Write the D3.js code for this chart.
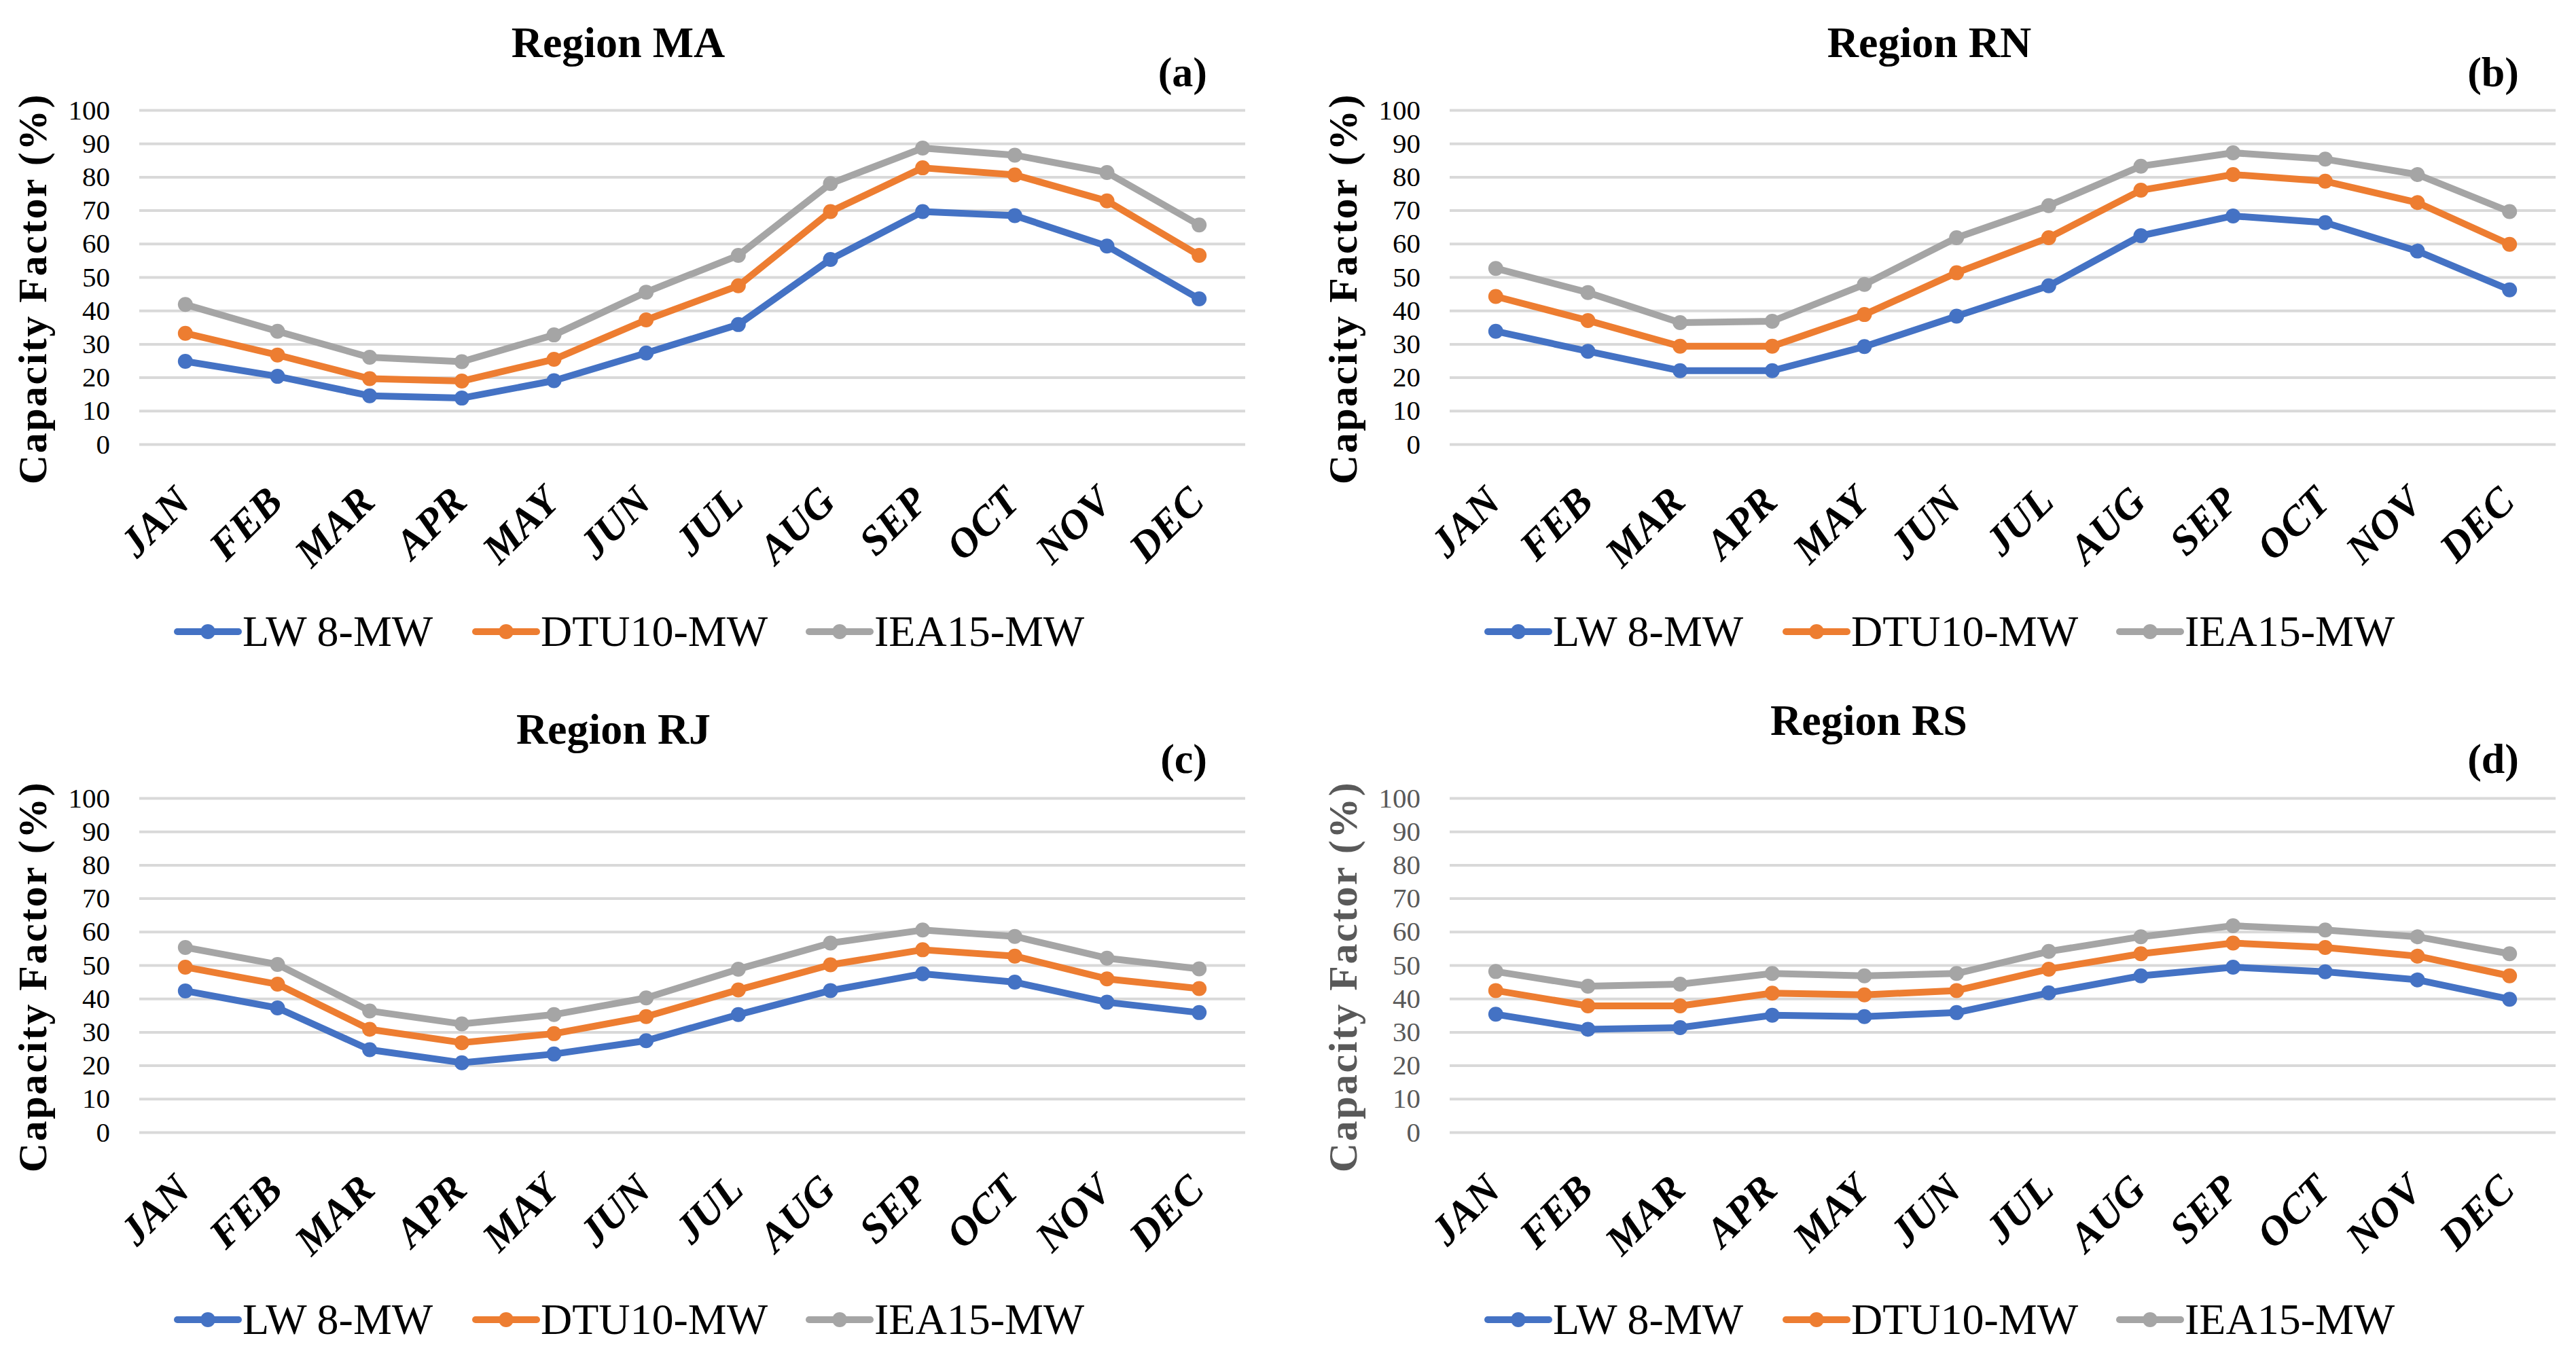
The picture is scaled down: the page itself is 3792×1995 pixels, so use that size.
<!DOCTYPE html>
<html>
<head>
<meta charset="utf-8">
<script src="https://cdn.jsdelivr.net/npm/d3@7"></script>
<style>
  html, body { margin: 0; padding: 0; background: #fff; }
  svg { display: block; }
</style>
</head>
<body>
<svg id="chart" width="3792" height="1995"></svg>
<script>
// ---------- data ----------
const months = ["JAN","FEB","MAR","APR","MAY","JUN","JUL","AUG","SEP","OCT","NOV","DEC"];
const seriesNames = ["LW 8-MW", "DTU10-MW", "IEA15-MW"];
const seriesColors = ["#4472C4", "#ED7D31", "#A5A5A5"];
const yTicks = [0, 10, 20, 30, 40, 50, 60, 70, 80, 90, 100];

const maLW  = [24.8, 20.3, 14.5, 13.8, 19.0, 27.3, 35.8, 55.3, 69.6, 68.4, 59.3, 43.5];
const maDTU = [33.2, 26.7, 19.6, 18.9, 25.4, 37.2, 47.4, 69.6, 82.7, 80.6, 72.8, 56.5];
const maIEA = [41.8, 33.8, 26.0, 24.7, 32.7, 45.5, 56.5, 78.0, 88.6, 86.5, 81.3, 65.6];

const rnLW  = [33.8, 27.8, 22.0, 22.0, 29.2, 38.3, 47.4, 62.4, 68.3, 66.3, 57.8, 46.2];
const rnDTU = [44.2, 37.0, 29.3, 29.3, 38.8, 51.3, 61.8, 76.0, 80.7, 78.7, 72.3, 59.8];
const rnIEA = [52.6, 45.4, 36.4, 36.8, 47.8, 61.8, 71.4, 83.2, 87.2, 85.3, 80.7, 69.6];

const rjLW  = [42.3, 37.2, 24.7, 20.8, 23.4, 27.4, 35.2, 42.4, 47.4, 44.9, 38.9, 35.8];
const rjDTU = [49.4, 44.3, 30.8, 26.8, 29.5, 34.6, 42.6, 50.1, 54.6, 52.7, 45.9, 43.0];
const rjIEA = [55.3, 50.2, 36.3, 32.4, 35.2, 40.2, 48.8, 56.6, 60.5, 58.6, 52.1, 48.9];

const rsLW  = [35.3, 30.8, 31.3, 35.0, 34.6, 35.8, 41.7, 46.8, 49.4, 48.0, 45.6, 39.8];
const rsDTU = [42.4, 37.8, 37.8, 41.6, 41.1, 42.4, 48.8, 53.4, 56.6, 55.3, 52.7, 46.8];
const rsIEA = [48.1, 43.7, 44.3, 47.5, 46.8, 47.5, 54.1, 58.5, 61.8, 60.5, 58.5, 53.4];

const titles = ["Region MA", "Region RN", "Region RJ", "Region RS"];
const tags = ["(a)", "(b)", "(c)", "(d)"];
const yAxisTitle = "Capacity Factor (%)";

// ---------- layout ----------
const FONT = "'Liberation Serif', 'Times New Roman', serif";
const panels = [
  { title: titles[0], tag: tags[0], data: [maLW, maDTU, maIEA], x0: 205,  x1: 1833, yTop: 162,  yBot: 654,  titleX: 910,  titleY: 84,   tagX: 1777, tagY: 127,  axisColor: "#000" },
  { title: titles[1], tag: tags[1], data: [rnLW, rnDTU, rnIEA], x0: 2134, x1: 3762, yTop: 162,  yBot: 654,  titleX: 2840, titleY: 84,   tagX: 3708, tagY: 127,  axisColor: "#000" },
  { title: titles[2], tag: tags[2], data: [rjLW, rjDTU, rjIEA], x0: 205,  x1: 1833, yTop: 1175, yBot: 1667, titleX: 903,  titleY: 1095, tagX: 1777, tagY: 1138, axisColor: "#000" },
  { title: titles[3], tag: tags[3], data: [rsLW, rsDTU, rsIEA], x0: 2134, x1: 3762, yTop: 1175, yBot: 1667, titleX: 2751, titleY: 1082, tagX: 3708, tagY: 1138, axisColor: "#595959" }
];
const legendOffsets = [56, 495, 986];

const svg = d3.select("#chart");

panels.forEach(p => {
  const g = svg.append("g");
  const x = d3.scalePoint().domain(months).range([p.x0, p.x1]).padding(0.5);
  const y = d3.scaleLinear().domain([0, 100]).range([p.yBot, p.yTop]);

  // gridlines + y labels
  const yAxis = g.append("g")
    .attr("transform", `translate(${p.x0},0)`)
    .call(d3.axisLeft(y).tickValues(yTicks).tickSize(-(p.x1 - p.x0)).tickPadding(43).tickFormat(d3.format("d")));
  yAxis.select(".domain").remove();
  yAxis.selectAll(".tick line").attr("stroke", "#D9D9D9").attr("stroke-width", 4);
  yAxis.selectAll(".tick text")
    .attr("fill", p.axisColor)
    .style("font-family", FONT)
    .style("font-size", "41px");

  // x labels
  const xAxis = g.append("g")
    .attr("transform", `translate(0,${p.yBot})`)
    .call(d3.axisBottom(x).tickSize(0));
  xAxis.select(".domain").remove();
  xAxis.selectAll(".tick text")
    .attr("x", 0).attr("y", 0).attr("dy", null)
    .attr("text-anchor", "end")
    .attr("transform", "translate(10,88) rotate(-45)")
    .attr("fill", "#000")
    .style("font-family", FONT)
    .style("font-size", "61px")
    .style("font-weight", "bold")
    .style("font-style", "italic");

  // series
  p.data.forEach((vals, i) => {
    const line = d3.line().x((d, j) => x(months[j])).y(d => y(d));
    g.append("path")
      .datum(vals)
      .attr("d", line)
      .attr("fill", "none")
      .attr("stroke", seriesColors[i])
      .attr("stroke-width", 10)
      .attr("stroke-linejoin", "round");
    g.selectAll(null)
      .data(vals)
      .enter().append("circle")
      .attr("cx", (d, j) => x(months[j]))
      .attr("cy", d => y(d))
      .attr("r", 11)
      .attr("fill", seriesColors[i]);
  });

  // title
  g.append("text")
    .attr("x", p.titleX).attr("y", p.titleY)
    .attr("text-anchor", "middle")
    .style("font-family", FONT).style("font-size", "64px").style("font-weight", "bold")
    .text(p.title);

  // tag
  g.append("text")
    .attr("x", p.tagX).attr("y", p.tagY)
    .attr("text-anchor", "end")
    .style("font-family", FONT).style("font-size", "62px").style("font-weight", "bold")
    .text(p.tag);

  // y axis title
  const cy = (p.yTop + p.yBot) / 2 + 17;
  g.append("text")
    .attr("transform", `translate(${p.x0 - 137},${cy}) rotate(-90)`)
    .attr("text-anchor", "middle")
    .attr("fill", p.axisColor)
    .style("font-family", FONT).style("font-size", "60px").style("font-weight", "bold")
    .style("letter-spacing", "2.5px")
    .text(yAxisTitle);

  // legend
  const ly = p.yBot + 276;
  seriesNames.forEach((name, i) => {
    const lx = p.x0 + legendOffsets[i];
    g.append("line")
      .attr("x1", lx).attr("x2", lx + 90)
      .attr("y1", ly).attr("y2", ly)
      .attr("stroke", seriesColors[i]).attr("stroke-width", 10).attr("stroke-linecap", "round");
    g.append("circle")
      .attr("cx", lx + 45).attr("cy", ly).attr("r", 11).attr("fill", seriesColors[i]);
    g.append("text")
      .attr("x", lx + 96).attr("y", ly + 21)
      .style("font-family", FONT).style("font-size", "64px")
      .attr("fill", "#000")
      .text(name);
  });
});
</script>
</body>
</html>
